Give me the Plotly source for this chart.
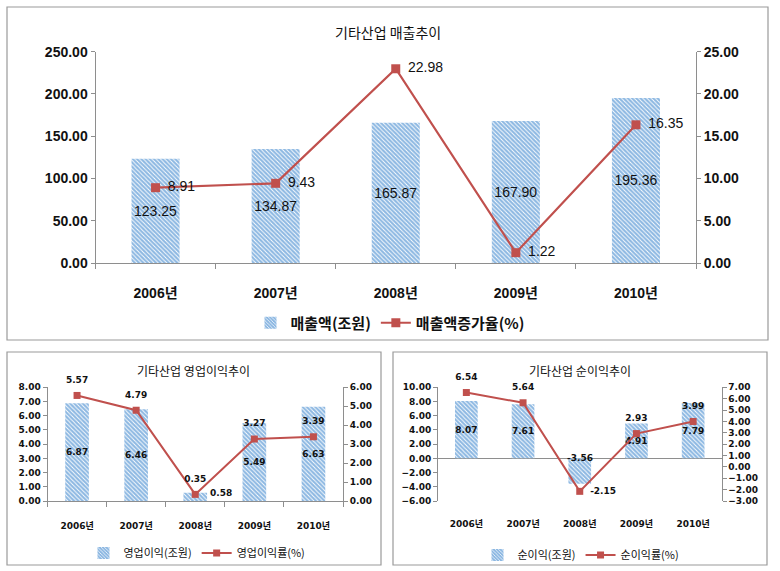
import plotly.graph_objects as go

# ---------------- data ----------------
years = ["2006년", "2007년", "2008년", "2009년", "2010년"]
sales = [123.25, 134.87, 165.87, 167.90, 195.36]          # 매출액(조원)
sales_growth = [8.91, 9.43, 22.98, 1.22, 16.35]           # 매출액증가율(%)
op_profit = [6.87, 6.46, 0.58, 5.49, 6.63]                # 영업이익(조원)
op_margin = [5.57, 4.79, 0.35, 3.27, 3.39]                # 영업이익률(%)
net_profit = [8.07, 7.61, -3.56, 4.91, 7.79]              # 순이익(조원)
net_margin = [6.54, 5.64, -2.15, 2.93, 3.99]              # 순이익률(%)

W, H = 780, 571
def px(x):
    return x / W
def py(y):
    return 1 - y / H

RED = "#C0504D"
AX = "#8E8E8E"
TXT = "#111111"
TOPF = "Liberation Sans, Noto Sans CJK KR, sans-serif"
KR = "Noto Sans CJK KR, sans-serif"
SMF = "DejaVu Sans, Noto Sans CJK KR, sans-serif"
BARC = "#8DB8E2"

def pattern():
    return dict(shape="\\", bgcolor=BARC, fgcolor="#FFFFFF", size=3, solidity=0.3)

fig = go.Figure()

def add_pair(xa, ya_bar, ya_line, bars, line, bar_name, line_name, leg,
             bar_font, line_font, bar_pos, line_pos, lwidth, msize, txt_msize):
    fig.add_trace(go.Bar(
        x=years, y=bars, name=bar_name, xaxis=xa, yaxis=ya_bar, width=0.4,
        marker=dict(color=BARC, pattern=pattern(), line=dict(width=0)),
        texttemplate="%{y:.2f}", textposition=bar_pos, insidetextanchor="middle",
        textangle=0, constraintext="none", textfont=bar_font, legend=leg,
        hoverinfo="skip"))
    fig.add_trace(go.Scatter(
        x=years, y=line, name=line_name, xaxis=xa, yaxis=ya_line,
        mode="lines+markers", line=dict(color=RED, width=lwidth),
        marker=dict(symbol="square", size=msize, color=RED), legend=leg,
        cliponaxis=False, hoverinfo="skip"))
    # value labels of the line (transparent markers set the label offset)
    fig.add_trace(go.Scatter(
        x=years, y=line, xaxis=xa, yaxis=ya_line, mode="markers+text",
        marker=dict(size=txt_msize, color="rgba(0,0,0,0)"),
        texttemplate="%{y:.2f}", textposition=line_pos, textfont=line_font,
        showlegend=False, cliponaxis=False, hoverinfo="skip", legend=leg))

top_font = dict(family=TOPF, size=14, color=TXT)
small_font = dict(family=SMF, size=9, color=TXT, weight="bold")

add_pair("x", "y", "y2", sales, sales_growth, "매출액(조원)", "매출액증가율(%)", "legend",
         top_font, top_font, "inside", "middle right", 2.2, 9, 18)
add_pair("x2", "y3", "y4", op_profit, op_margin, "영업이익(조원)", "영업이익률(%)", "legend2",
         small_font, small_font, ["inside", "inside", "none", "inside", "inside"],
         "top center", 2, 7, 15)
add_pair("x3", "y5", "y6", net_profit, net_margin, "순이익(조원)", "순이익률(%)", "legend3",
         small_font, small_font, ["inside", "inside", "none", "inside", "inside"],
         ["top center", "top center", "middle right", "top center", "top center"], 2, 7, 15)

# ---------------- axes ----------------
top_y = [py(263), py(51.7)]
bot_y = [py(501), py(387.3)]
xl_range = [-0.5, len(years) - 0.5]

def xax(domain, anchor, size, fam, standoff, showline=True, weight="bold"):
    return dict(domain=domain, anchor=anchor, type="category", range=xl_range,
                showline=showline, linecolor=AX, linewidth=1,
                ticks="outside" if showline else "", tickson="boundaries",
                ticklen=5, tickcolor=AX, showgrid=False, zeroline=False,
                tickfont=dict(family=fam, size=size, color=TXT, weight=weight),
                ticklabelstandoff=standoff, automargin=False, fixedrange=True)

def yax(domain, anchor, rng, dtick, size, fam, side="left", overlaying=None,
        zeroline=False, weight="bold"):
    d = dict(domain=domain, anchor=anchor, range=rng, dtick=dtick, tick0=0,
             tickformat=".2f", showline=True, linecolor=AX, linewidth=1,
             ticks="outside", ticklen=4, tickcolor=AX, showgrid=False,
             zeroline=zeroline, zerolinecolor=AX, zerolinewidth=1, side=side,
             tickfont=dict(family=fam, size=size, color=TXT, weight=weight),
             automargin=False, fixedrange=True)
    if overlaying:
        d["overlaying"] = overlaying
    return d

net_rng = [-6, 10]
zero_pos = bot_y[0] + (0 - net_rng[0]) / (net_rng[1] - net_rng[0]) * (bot_y[1] - bot_y[0])

fig.update_layout(
    template="none",
    xaxis=xax([px(95.5), px(696)], "y", 14, TOPF, 17),
    yaxis=yax(top_y, "x", [0, 250], 50, 14, TOPF),
    yaxis2=yax(top_y, "x", [0, 25], 5, 14, TOPF, side="right", overlaying="y"),
    xaxis2=xax([px(47.5), px(343)], "y3", 9, SMF, 16),
    yaxis3=yax(bot_y, "x2", [0, 8], 1, 9, SMF),
    yaxis4=yax(bot_y, "x2", [0, 6], 1, 9, SMF, side="right", overlaying="y3"),
    xaxis3=xax([px(438), px(721.5)], "y5", 9, SMF, 16, showline=False),
    yaxis5=yax(bot_y, "x3", net_rng, 2, 9, SMF, zeroline=True),
    yaxis6=yax(bot_y, "x3", [-3, 7], 1, 9, SMF, side="right", overlaying="y5"),
    xaxis4=dict(overlaying="x3", anchor="free", position=zero_pos, range=xl_range,
                tickmode="array", tickvals=[i + 0.5 for i in range(len(years) - 1)],
                ticks="outside", ticklen=4, tickcolor=AX, showticklabels=False,
                showline=False, showgrid=False, zeroline=False, automargin=False,
                fixedrange=True),
)

# ---------------- legends ----------------
fig.update_layout(
    legend=dict(orientation="h", x=0.5, xanchor="center", y=py(323), yanchor="middle",
                font=dict(family=KR, size=15, color=TXT, weight="bold"),
                bgcolor="rgba(0,0,0,0)", itemclick=False, itemdoubleclick=False),
    legend2=dict(orientation="h", x=px(197), xanchor="center", y=py(553), yanchor="middle",
                 font=dict(family=KR, size=11, color=TXT),
                 bgcolor="rgba(0,0,0,0)", itemclick=False, itemdoubleclick=False),
    legend3=dict(orientation="h", x=px(581), xanchor="center", y=py(555), yanchor="middle",
                 font=dict(family=KR, size=11, color=TXT),
                 bgcolor="rgba(0,0,0,0)", itemclick=False, itemdoubleclick=False),
)

# ---------------- titles & special labels ----------------
def title(text, x, y, size):
    return dict(text=text, x=px(x), y=py(y), xref="paper", yref="paper",
                xanchor="center", yanchor="middle", showarrow=False,
                font=dict(family=KR, size=size, color=TXT))

annos = [
    title("기타산업 매출추이", 388, 32, 14),
    title("기타산업 영업이익추이", 193, 370, 12),
    title("기타산업 순이익추이", 580, 370, 12),
    dict(text=f"{op_profit[2]:.2f}", x=years[2], y=op_profit[2], xref="x2", yref="y3",
         xanchor="left", yanchor="middle", xshift=13, showarrow=False,
         font=small_font),
    dict(text=f"{net_profit[2]:.2f}", x=years[2], y=0, xref="x3", yref="y5",
         xanchor="center", yanchor="middle", showarrow=False, font=small_font),
]

# panel frames
frames = [(7, 7, 768, 340), (7, 352, 381, 565), (393, 352, 767, 565)]
shapes = [dict(type="rect", xref="paper", yref="paper", x0=px(a), x1=px(c),
               y0=py(d), y1=py(b), line=dict(color="#9A9A9A", width=1.2),
               fillcolor="rgba(0,0,0,0)", layer="below")
          for a, b, c, d in frames]

fig.update_layout(
    width=W, height=H, autosize=False,
    margin=dict(l=0, r=0, t=0, b=0, pad=0),
    paper_bgcolor="white", plot_bgcolor="rgba(0,0,0,0)",
    barmode="overlay", bargap=0.6, hovermode=False,
    annotations=annos, shapes=shapes,
)

fig.write_html("out.html", config={"displayModeBar": False},
               post_script="document.body.style.margin='0px';")
